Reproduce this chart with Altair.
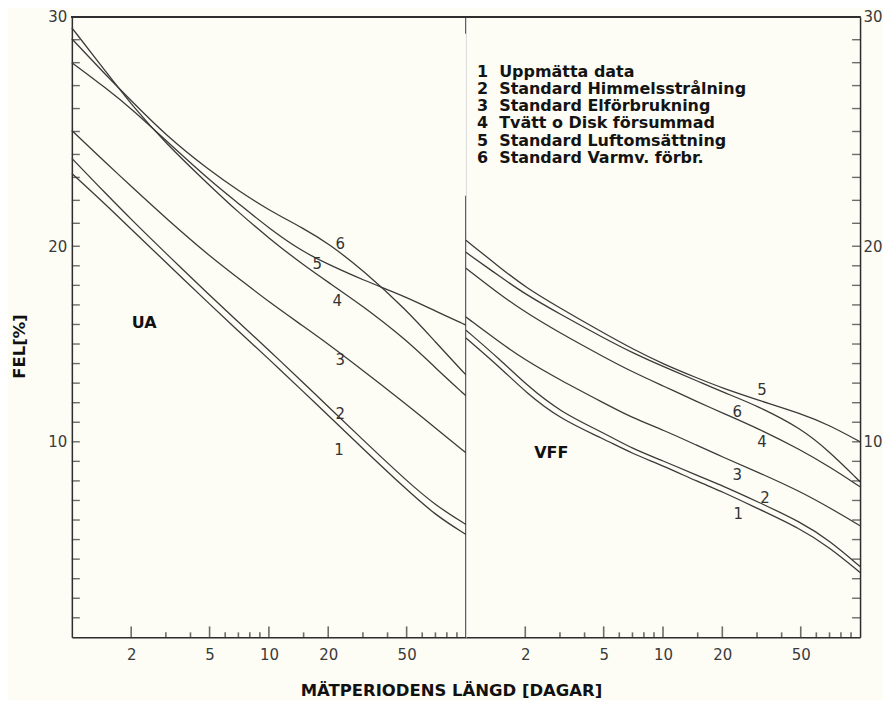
import altair as alt
import pandas as pd

# ---------------- data ----------------
days = [1, 1.5, 2, 3, 5, 7, 10, 15, 20, 30, 50, 70, 100]

curves = ["1", "2", "3", "4", "5", "6"]
legend_labels = [
    "1\u00a0 Uppmätta data",
    "2\u00a0 Standard Himmelsstrålning",
    "3\u00a0 Standard Elförbrukning",
    "4\u00a0 Tvätt o Disk försummad",
    "5\u00a0 Standard Luftomsättning",
    "6\u00a0 Standard Varmv. förbr.",
]

ua_1 = [23.17, 21.78, 20.74, 19.18, 17.04, 15.66, 14.23, 12.55, 11.35, 9.65, 7.55, 6.25, 5.26]
ua_2 = [23.83, 22.26, 21.17, 19.64, 17.50, 16.12, 14.69, 13.00, 11.80, 10.10, 8.00, 6.75, 5.77]
ua_3 = [25.04, 23.61, 22.61, 21.22, 19.49, 18.37, 17.15, 15.90, 15.00, 13.65, 11.90, 10.70, 9.44]
ua_4 = [29.52, 27.57, 26.18, 24.48, 22.65, 21.48, 20.35, 19.03, 18.16, 16.94, 15.20, 13.78, 12.35]
ua_5 = [28.00, 26.87, 26.00, 24.61, 22.87, 21.87, 20.78, 19.69, 19.08, 18.27, 17.40, 16.68, 15.97]
ua_6 = [29.04, 27.43, 26.35, 24.83, 23.30, 22.43, 21.57, 20.78, 20.13, 18.78, 16.73, 15.10, 13.42]

vff_1 = [15.31, 13.78, 12.55, 11.17, 10.15, 9.39, 8.78, 7.96, 7.45, 6.60, 5.55, 4.60, 3.32]
vff_2 = [15.71, 14.18, 12.96, 11.53, 10.46, 9.64, 9.03, 8.27, 7.76, 6.95, 5.90, 4.95, 3.62]
vff_3 = [16.38, 15.05, 14.18, 13.16, 11.99, 11.22, 10.61, 9.80, 9.23, 8.47, 7.45, 6.63, 5.71]
vff_4 = [18.88, 17.50, 16.63, 15.56, 14.34, 13.57, 12.86, 12.04, 11.48, 10.71, 9.59, 8.72, 7.70]
vff_5 = [20.26, 18.88, 17.91, 16.84, 15.56, 14.75, 13.98, 13.25, 12.75, 12.15, 11.45, 10.85, 10.00]
vff_6 = [19.69, 18.42, 17.55, 16.53, 15.31, 14.55, 13.85, 13.10, 12.55, 11.85, 10.70, 9.50, 7.96]

ua_series = [ua_1, ua_2, ua_3, ua_4, ua_5, ua_6]
vff_series = [vff_1, vff_2, vff_3, vff_4, vff_5, vff_6]

# curve number annotations (days, %)
ua_lab_x = [22.7, 23.0, 23.0, 22.2, 17.6, 23.0]
ua_lab_y = [9.6, 11.4, 14.2, 17.2, 19.1, 20.1]
vff_lab_x = [24.1, 32.9, 23.8, 31.8, 31.8, 23.8]
vff_lab_y = [6.3, 7.1, 8.3, 10.0, 12.65, 11.5]

panel_names = ["UA", "VFF"]
panel_name_x = [2.33, 2.71]
panel_name_y = [16.1, 9.44]

x_label_values = [2, 5, 10, 20, 50]
x_minor_values = [3, 4, 6, 7, 8, 9, 15, 30, 40, 60, 70, 80, 90]
y_label_values = [10, 20, 30]
y_tick_values = list(range(1, 30))

divider_lo = [0, 29.26]
divider_hi = [22.2, 30]

# ---------------- tables ----------------
rows = []
for pname, series in zip(panel_names, [ua_series, vff_series]):
    for c, lab, vals in zip(curves, legend_labels, series):
        for d, v in zip(days, vals):
            rows.append({"panel": pname, "kurva": c, "serie": lab, "dagar": d, "fel": v})
df = pd.DataFrame(rows)

lab_df = {
    "UA": pd.DataFrame({"kurva": curves, "dagar": ua_lab_x, "fel": ua_lab_y}),
    "VFF": pd.DataFrame({"kurva": curves, "dagar": vff_lab_x, "fel": vff_lab_y}),
}
name_df = pd.DataFrame({"panel": panel_names, "dagar": panel_name_x, "fel": panel_name_y})
xmaj_df = pd.DataFrame({"dagar": x_label_values})
xmin_df = pd.DataFrame({"dagar": x_minor_values})
ytick_df = pd.DataFrame({"fel": y_tick_values})
div_df = pd.DataFrame({"lo": divider_lo, "hi": divider_hi})

W, H = 395, 622
INK = "#2e2e2e"
LINE = "#3a3a3a"
FONT = "DejaVu Sans"

xs = alt.Scale(type="log", domain=[1, 100], nice=False)
ys = alt.Scale(domain=[0, 20, 30], range=[H, 230, 0], nice=False, zero=False)


def x_axis(with_title):
    kw = dict(
        values=x_label_values, ticks=False, domain=True, domainColor=INK, domainWidth=1.5,
        labelFont=FONT, labelFontSize=15, labelColor="#3a3a3a", labelPadding=10,
        labelExpr="format(datum.value, 'd')", grid=False,
    )
    if with_title:
        kw.update(
            title="MÄTPERIODENS LÄNGD [DAGAR]", titleFont=FONT, titleFontSize=16.5,
            titleFontWeight="bold", titleColor="#111", titleX=380, titleY=58,
            titleAlign="center", titleBaseline="alphabetic",
        )
    else:
        kw.update(title=None)
    return alt.Axis(**kw)


def y_axis(orient):
    kw = dict(
        orient=orient, values=y_label_values, ticks=False, domain=True, domainColor=INK,
        domainWidth=1.5, labelFont=FONT, labelFontSize=15, labelColor="#3a3a3a",
        labelPadding=5 if orient == "left" else 3, grid=False,
    )
    if orient == "left":
        kw.update(
            title="FEL[%]", titleFont=FONT, titleFontSize=16.5, titleFontWeight="bold",
            titleColor="#111", titleX=-52, titleY=330, titleAlign="center",
            titleBaseline="middle", titleAngle=-90,
        )
    else:
        kw.update(title=None)
    return alt.Axis(**kw)


def panel(pname, side):
    d = df[df.panel == pname]
    legend = None
    if side == "right":
        legend = alt.Legend(
            title=None, orient="none", legendX=-5, legendY=47, padding=0,
            symbolOpacity=0, symbolSize=0, symbolStrokeWidth=0, labelOffset=0,
            labelFont=FONT, labelFontSize=16, labelFontWeight="bold",
            labelColor="#141414", labelLimit=400, rowPadding=1.3,
        )
    lines = alt.Chart(d).mark_line(strokeWidth=1.3, interpolate="basis").encode(
        x=alt.X("dagar:Q", scale=xs, axis=x_axis(side == "left")),
        y=alt.Y("fel:Q", scale=ys, axis=y_axis(side)),
        color=alt.Color("serie:N", scale=alt.Scale(range=[LINE]), legend=legend),
    )
    labels = alt.Chart(lab_df[pname]).mark_text(
        font=FONT, fontSize=15, color="#333"
    ).encode(x=alt.X("dagar:Q", scale=xs), y=alt.Y("fel:Q", scale=ys), text="kurva:N")
    pname_t = alt.Chart(name_df[name_df.panel == pname]).mark_text(
        font=FONT, fontSize=16, fontWeight="bold", color="#111"
    ).encode(x=alt.X("dagar:Q", scale=xs), y=alt.Y("fel:Q", scale=ys), text="panel:N")
    xmaj = alt.Chart(xmaj_df).mark_tick(
        orient="vertical", size=11, thickness=1.6, yOffset=-5.5, color=INK
    ).encode(x=alt.X("dagar:Q", scale=xs), y=alt.datum(0))
    xmin = alt.Chart(xmin_df).mark_tick(
        orient="vertical", size=5, thickness=1.6, yOffset=-2.5, color=INK
    ).encode(x=alt.X("dagar:Q", scale=xs), y=alt.datum(0))
    edge = 1 if side == "left" else 100
    off = 4 if side == "left" else -4
    yt = alt.Chart(ytick_df).mark_tick(
        orient="horizontal", size=8, thickness=1.4, xOffset=off, color=INK
    ).encode(y=alt.Y("fel:Q", scale=ys), x=alt.datum(edge))
    top = alt.Chart(ytick_df).mark_rule(color=INK, strokeWidth=1.5).encode(
        x=alt.datum(1), x2=alt.datum(100), y=alt.datum(30)
    )
    layers = [lines, labels, pname_t, xmaj, xmin, yt, top]
    if side == "left":
        div = alt.Chart(div_df).mark_rule(color=INK, strokeWidth=1.5).encode(
            x=alt.datum(100), y=alt.Y("lo:Q", scale=ys), y2="hi:Q"
        )
        layers.append(div)
    return alt.layer(*layers).properties(width=W, height=H)


left = panel("UA", "left")
right = panel("VFF", "right")

chart = (
    alt.hconcat(left, right, spacing=0, bounds="flush")
    .resolve_scale(color="independent")
    .configure_view(stroke=None)
    .configure(background="#fdfdf6", padding={"left": 3, "top": 0, "right": 0, "bottom": 0})
)

chart.save("out.html", embed_options={"renderer": "svg", "actions": False})
